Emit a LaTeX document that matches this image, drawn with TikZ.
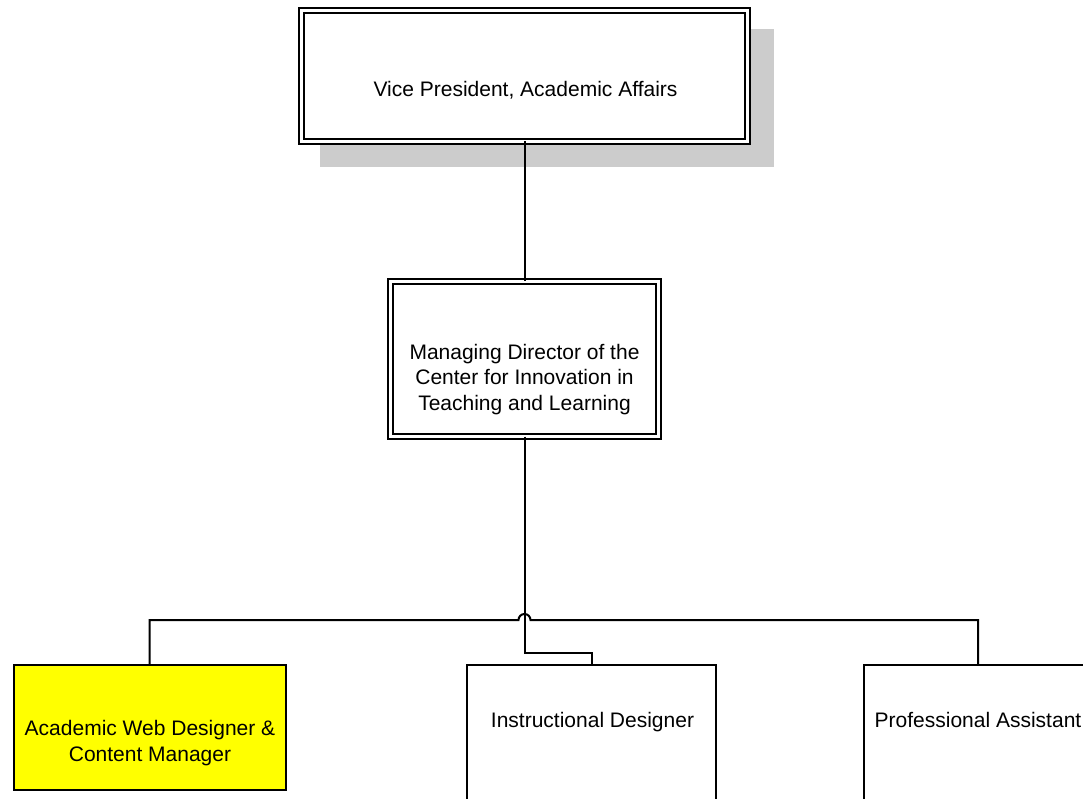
\documentclass[tikz,border=0pt]{standalone}
\usepackage{fontspec}
\setmainfont{Liberation Sans}
\definecolor{shadowgray}{HTML}{CCCCCC}
\definecolor{hiyellow}{HTML}{FFFF00}
\begin{document}
\begin{tikzpicture}[x=1pt,y=-1pt,
  dbox/.style={draw=black, line width=1.8pt, double=white, double distance=3pt, fill=white, inner sep=0pt, outer sep=0pt},
  sbox/.style={draw=black, line width=2pt, fill=white, inner sep=0pt, outer sep=0pt},
  lbl/.style={inner sep=0pt, outer sep=0pt, font=\fontsize{21}{25.5}\selectfont, align=center},
  conn/.style={draw=black, line width=2pt}]
\clip (0,0) rectangle (1083,799);
% shadow of the top box
\fill[shadowgray] (320,29) rectangle (774,167);
% boxes
\node[dbox, minimum width=446pt, minimum height=131pt] (vp) at (524.5,76) {};
\node[dbox, minimum width=268pt, minimum height=155pt] (md) at (524.5,359) {};
\node[sbox, fill=hiyellow, minimum width=272pt, minimum height=125pt] (aw) at (149.5,727.5) {};
\node[sbox, minimum width=249pt, minimum height=160pt] (id) at (591.5,745) {};
\node[sbox, minimum width=228pt, minimum height=160pt] (pa) at (978,745) {};
% texts (base anchor = baseline of the last line)
\node[lbl, anchor=base] (vpT) at (525.5,97) {Vice President, Academic Affairs};
\node[lbl, anchor=base] (mdT) at (524.5,410) {Managing Director of the\\Center for Innovation in\\Teaching and Learning};
\node[lbl, anchor=base] (awT) at (150,761) {Academic Web Designer \&\\Content Manager};
\node[lbl, anchor=base] (idT) at (592.5,727) {Instructional Designer};
\node[lbl, anchor=base] (paT) at (978,727) {Professional Assistant};
% connectors
\coordinate (hop) at (md.south |- 0,620);
\draw[conn] (vp.south) -- (md.north);
\draw[conn] (md.south) |- (id.north |- 0,653) -- (id.north);
\draw[conn] (aw.north) |- ([xshift=-6pt]hop) arc[start angle=180, end angle=0, radius=6pt] -| (pa.north);
\end{tikzpicture}
\end{document}
